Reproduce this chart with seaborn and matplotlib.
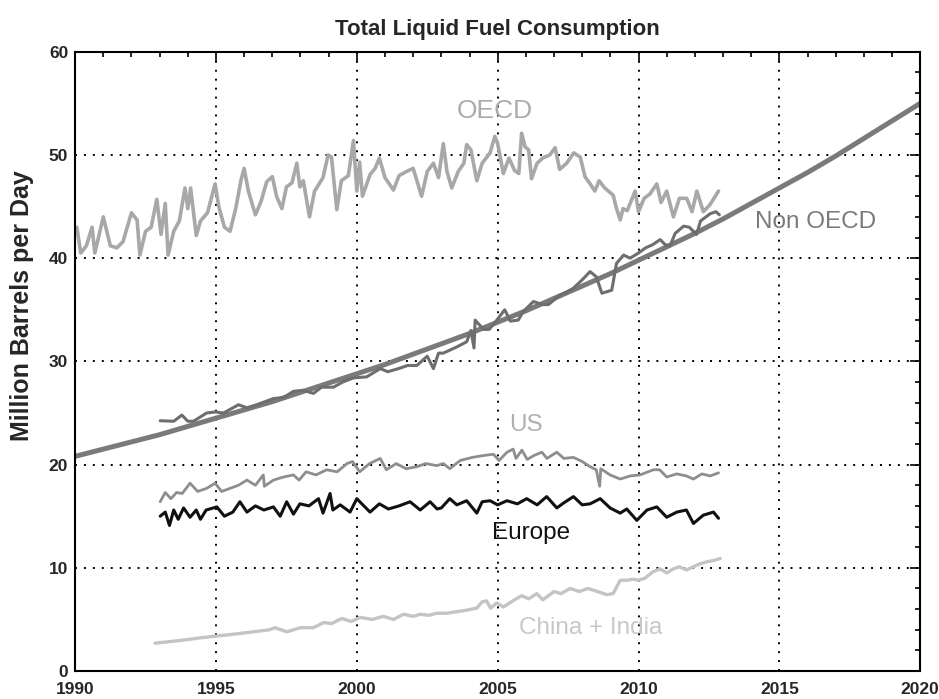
import matplotlib
matplotlib.use("Agg")
import matplotlib.pyplot as plt
import seaborn as sns
import pandas as pd
from matplotlib.ticker import MultipleLocator

# OECD (year / million barrels per day)
oecd_t = [1990.06, 1990.2, 1990.4, 1990.6, 1990.7, 1991.0, 1991.25, 1991.48, 1991.7, 1991.85,
          1992.0, 1992.2, 1992.3, 1992.5, 1992.7, 1992.9, 1993.05, 1993.2, 1993.3, 1993.5,
          1993.7, 1993.9, 1994.0, 1994.1, 1994.3, 1994.45, 1994.7, 1994.97, 1995.1, 1995.3,
          1995.5, 1995.7, 1995.9, 1996.0, 1996.15, 1996.4, 1996.6, 1996.8, 1997.0, 1997.15,
          1997.34, 1997.5, 1997.7, 1997.87, 1997.98, 1998.1, 1998.32, 1998.5, 1998.8, 1998.98,
          1999.1, 1999.29, 1999.45, 1999.7, 1999.88, 2000.0, 2000.1, 2000.2, 2000.47, 2000.65,
          2000.8, 2001.0, 2001.3, 2001.5, 2001.77, 2002.0, 2002.3, 2002.5, 2002.72, 2002.9,
          2003.07, 2003.2, 2003.37, 2003.6, 2003.8, 2003.9, 2004.05, 2004.26, 2004.45, 2004.73,
          2004.9, 2005.0, 2005.2, 2005.4, 2005.6, 2005.75, 2005.85, 2005.97, 2006.1, 2006.2,
          2006.4, 2006.6, 2006.85, 2007.04, 2007.2, 2007.45, 2007.7, 2007.93, 2008.1, 2008.28,
          2008.45, 2008.6, 2008.8, 2009.1, 2009.22, 2009.35, 2009.45, 2009.6, 2009.88, 2010.0,
          2010.2, 2010.4, 2010.65, 2010.8, 2011.0, 2011.24, 2011.45, 2011.71, 2011.9, 2012.07,
          2012.3, 2012.54, 2012.84]
oecd_v = [43.0, 40.5, 41.2, 43.0, 40.5, 44.0, 41.2, 41.0, 41.6, 43.0,
          44.4, 43.7, 40.3, 42.6, 43.0, 45.7, 42.3, 45.3, 40.3, 42.6,
          43.6, 46.8, 44.8, 46.8, 42.2, 43.6, 44.4, 47.2, 45.0, 43.0,
          42.6, 44.8, 47.7, 48.7, 46.5, 44.2, 45.5, 47.4, 47.9, 46.0,
          44.8, 46.9, 47.3, 49.2, 46.9, 47.5, 44.0, 46.5, 47.8, 50.0,
          49.8, 44.7, 47.5, 48.0, 51.4, 46.5, 49.3, 46.0, 48.1, 48.7,
          49.7, 47.8, 46.6, 48.0, 48.4, 48.7, 46.0, 48.4, 49.2, 47.8,
          51.1, 48.4, 46.8, 48.4, 49.2, 51.0, 50.5, 47.5, 49.2, 50.2,
          51.8, 51.1, 48.2, 49.7, 48.5, 48.2, 52.1, 50.8, 50.5, 47.7,
          49.2, 49.7, 50.0, 50.7, 48.6, 49.2, 50.2, 49.8, 47.9, 47.2,
          46.5, 47.5, 46.8, 46.1, 44.8, 43.7, 44.8, 44.6, 46.5, 44.5,
          45.8, 46.2, 47.2, 45.4, 46.5, 44.0, 45.8, 45.8, 44.5, 46.5,
          44.5, 45.2, 46.5]

# Non OECD
non_t = [1993.02, 1993.5, 1993.79, 1994.0, 1994.2, 1994.67, 1994.97, 1995.27, 1995.8, 1996.1,
         1996.45, 1997.04, 1997.4, 1997.75, 1998.1, 1998.46, 1998.75, 1999.17, 1999.5, 1999.88,
         2000.35, 2000.83, 2001.1, 2001.48, 2001.8, 2002.13, 2002.5, 2002.72, 2002.9, 2003.07,
         2003.31, 2003.55, 2003.9, 2004.05, 2004.16, 2004.2, 2004.5, 2004.7, 2004.97, 2005.25,
         2005.45, 2005.73, 2005.9, 2006.27, 2006.6, 2006.8, 2007.2, 2007.45, 2007.69, 2008.0,
         2008.28, 2008.5, 2008.7, 2009.05, 2009.22, 2009.47, 2009.7, 2010.0, 2010.25, 2010.5,
         2010.77, 2010.95, 2011.12, 2011.3, 2011.6, 2011.8, 2012.06, 2012.2, 2012.54, 2012.75,
         2012.87]
non_v = [24.25, 24.2, 24.8, 24.2, 24.2, 25.0, 25.1, 25.0, 25.8, 25.5,
         25.8, 26.4, 26.5, 27.1, 27.2, 26.9, 27.5, 27.5, 28.0, 28.4,
         28.5, 29.3, 29.0, 29.3, 29.6, 29.6, 30.5, 29.3, 30.8, 30.8,
         31.1, 31.4, 31.9, 33.0, 31.3, 34.0, 33.1, 33.1, 34.0, 35.0,
         33.9, 34.0, 34.8, 35.8, 35.5, 35.5, 36.4, 36.7, 37.1, 37.9,
         38.7, 38.2, 36.6, 36.9, 39.5, 40.3, 40.0, 40.5, 41.0, 41.3,
         41.8, 41.3, 41.2, 42.4, 43.1, 43.0, 42.3, 43.6, 44.3, 44.5,
         44.2]

# exponential trend for Non OECD, one value per year
fit_t = list(range(1990, 2021))
fit_v = [20.8, 21.5, 22.2, 22.9, 23.7, 24.5, 25.3, 26.1, 27.0, 27.9,
         28.8, 29.7, 30.7, 31.7, 32.7, 33.8, 34.9, 36.1, 37.3, 38.5,
         39.8, 41.1, 42.4, 43.8, 45.3, 46.8, 48.3, 49.9, 51.6, 53.3, 55.0]

# US
us_t = [1993.02, 1993.2, 1993.4, 1993.6, 1993.8, 1994.08, 1994.35, 1994.67, 1994.97, 1995.2,
        1995.5, 1995.8, 1996.1, 1996.4, 1996.68, 1996.72, 1997.04, 1997.4, 1997.75, 1997.95,
        1998.2, 1998.55, 1998.93, 1999.3, 1999.65, 1999.85, 2000.1, 2000.45, 2000.83, 2001.05,
        2001.4, 2001.75, 2002.13, 2002.45, 2002.84, 2003.07, 2003.3, 2003.67, 2004.1, 2004.55,
        2004.85, 2005.05, 2005.33, 2005.55, 2005.65, 2005.86, 2006.05, 2006.3, 2006.57, 2006.75,
        2007.1, 2007.35, 2007.69, 2008.0, 2008.28, 2008.5, 2008.62, 2008.66, 2008.99, 2009.35,
        2009.7, 2010.05, 2010.53, 2010.75, 2011.0, 2011.36, 2011.7, 2011.95, 2012.25, 2012.54,
        2012.84]
us_v = [16.4, 17.3, 16.7, 17.3, 17.2, 18.2, 17.4, 17.7, 18.2, 17.4,
        17.7, 18.0, 18.5, 18.0, 19.0, 17.9, 18.5, 18.8, 19.0, 18.5,
        19.3, 19.0, 19.5, 19.3, 20.1, 20.3, 19.3, 20.1, 20.6, 19.5,
        20.1, 19.6, 19.8, 20.1, 19.9, 20.1, 19.6, 20.4, 20.7, 20.9,
        21.0, 20.4, 21.2, 21.5, 20.6, 21.4, 20.5, 20.9, 21.2, 20.6,
        21.2, 20.6, 20.7, 20.3, 19.8, 19.5, 17.9, 19.6, 19.0, 18.6,
        18.9, 19.0, 19.5, 19.5, 18.8, 19.1, 18.9, 18.6, 19.1, 18.9,
        19.2]

# Europe
eu_t = [1993.02, 1993.2, 1993.35, 1993.5, 1993.66, 1993.85, 1994.08, 1994.3, 1994.45, 1994.65,
        1995.03, 1995.3, 1995.6, 1995.85, 1996.1, 1996.4, 1996.7, 1997.04, 1997.28, 1997.51,
        1997.75, 1997.98, 1998.3, 1998.64, 1998.8, 1999.05, 1999.15, 1999.41, 1999.76, 2000.0,
        2000.25, 2000.47, 2000.8, 2001.12, 2001.5, 2001.89, 2002.25, 2002.6, 2002.85, 2003.0,
        2003.3, 2003.55, 2003.9, 2004.26, 2004.45, 2004.73, 2005.0, 2005.33, 2005.7, 2006.03,
        2006.4, 2006.74, 2007.1, 2007.35, 2007.69, 2008.0, 2008.28, 2008.64, 2008.99, 2009.35,
        2009.58, 2009.94, 2010.3, 2010.65, 2011.0, 2011.36, 2011.7, 2011.95, 2012.3, 2012.66,
        2012.84]
eu_v = [15.0, 15.4, 14.1, 15.6, 14.7, 15.8, 14.9, 15.6, 14.7, 15.6,
        15.9, 15.0, 15.4, 16.4, 15.4, 16.0, 15.6, 15.9, 15.0, 16.4,
        15.2, 16.2, 16.0, 16.7, 15.3, 17.2, 15.6, 16.1, 15.4, 16.7,
        16.0, 15.4, 16.2, 15.7, 16.0, 16.4, 15.6, 16.4, 15.7, 15.8,
        16.7, 16.1, 16.5, 15.3, 16.4, 16.5, 16.1, 16.5, 16.2, 16.7,
        16.1, 16.9, 15.8, 16.3, 16.9, 16.1, 16.2, 16.7, 15.8, 15.3,
        15.7, 14.6, 15.6, 15.9, 14.9, 15.4, 15.6, 14.3, 15.1, 15.4,
        14.8]

# China + India
ci_t = [1992.84, 1993.7, 1994.55, 1995.4, 1996.33, 1996.9, 1997.1, 1997.52, 1998.0, 1998.46,
        1998.82, 1999.1, 1999.47, 1999.8, 2000.12, 2000.55, 2000.94, 2001.3, 2001.66, 2002.0,
        2002.25, 2002.55, 2002.84, 2003.2, 2003.43, 2003.9, 2004.26, 2004.45, 2004.6, 2004.75,
        2004.97, 2005.2, 2005.6, 2005.85, 2006.1, 2006.39, 2006.6, 2007.0, 2007.25, 2007.57,
        2007.9, 2008.2, 2008.55, 2008.87, 2009.1, 2009.35, 2009.6, 2009.8, 2010.0, 2010.23,
        2010.5, 2010.77, 2011.0, 2011.24, 2011.45, 2011.7, 2011.95, 2012.19, 2012.45, 2012.66,
        2012.9]
ci_v = [2.7, 2.95, 3.25, 3.5, 3.8, 4.0, 4.2, 3.8, 4.2, 4.2,
        4.7, 4.6, 5.1, 4.8, 5.2, 5.0, 5.3, 5.0, 5.5, 5.3,
        5.5, 5.4, 5.6, 5.6, 5.7, 5.9, 6.1, 6.7, 6.8, 6.1,
        6.6, 6.2, 6.9, 7.3, 7.0, 7.5, 6.9, 7.7, 7.5, 8.0,
        7.7, 8.0, 7.7, 7.4, 7.5, 8.8, 8.8, 8.9, 8.8, 9.0,
        9.6, 9.9, 9.5, 9.9, 10.1, 9.8, 10.1, 10.4, 10.6, 10.7,
        10.9]

sns.set_style("white")
plt.rcParams['font.family'] = ['Liberation Sans', 'DejaVu Sans']

fig = plt.figure(figsize=(9.39, 6.99), dpi=100)
ax = fig.add_axes([0.08, 0.04, 0.9, 0.886])

sns.lineplot(x=oecd_t, y=oecd_v, color="#a8a8a8", lw=2.6, estimator=None, ax=ax)
sns.lineplot(x=fit_t, y=fit_v, color="#7a7a7a", lw=3.6, estimator=None, ax=ax)
sns.lineplot(x=non_t, y=non_v, color="#6e6e6e", lw=2.2, estimator=None, ax=ax)
sns.lineplot(x=us_t, y=us_v, color="#8e8e8e", lw=2.0, estimator=None, ax=ax)
sns.lineplot(x=eu_t, y=eu_v, color="#111111", lw=2.2, estimator=None, ax=ax)
sns.lineplot(x=ci_t, y=ci_v, color="#c4c4c4", lw=2.4, estimator=None, ax=ax)

ax.set_xlim(1990, 2020)
ax.set_ylim(0, 60)
ax.xaxis.set_major_locator(MultipleLocator(5))
ax.xaxis.set_minor_locator(MultipleLocator(1))
ax.yaxis.set_major_locator(MultipleLocator(10))
ax.yaxis.set_minor_locator(MultipleLocator(2))
ax.tick_params(which='both', direction='in', top=True, right=True, width=1.2, color='black')
ax.tick_params(which='major', length=7, labelsize=12.5)
ax.tick_params(axis='x', which='major', pad=8)
ax.tick_params(axis='y', which='major', pad=5)
ax.tick_params(which='minor', length=3.5)
for lab in ax.get_xticklabels() + ax.get_yticklabels():
    lab.set_fontweight('bold')
for s in ax.spines.values():
    s.set_visible(True)
    s.set_color('black')
    s.set_linewidth(1.5)

ax.grid(True, which='major', color='black', linestyle=(0, (1, 3.6)), linewidth=1.4)

ax.set_title("Total Liquid Fuel Consumption", fontsize=16, fontweight='bold', pad=12)
ax.set_ylabel("Million Barrels per Day", fontsize=18, fontweight='bold')
ax.yaxis.set_label_coords(-0.049, 0.59)

ax.text(2004.9, 54.3, "OECD", color="#ababab", fontsize=19, ha='center', va='center')
ax.text(2016.3, 43.5, "Non OECD", color="#7a7a7a", fontsize=17.5, ha='center', va='center')
ax.text(2006.0, 23.8, "US", color="#b0b0b0", fontsize=17.5, ha='center', va='center')
ax.text(2006.2, 13.4, "Europe", color="#111111", fontsize=17.5, ha='center', va='center')
ax.text(2008.3, 4.2, "China + India", color="#c8c8c8", fontsize=17.5, ha='center', va='center')

fig.savefig("out.png", dpi=100)
